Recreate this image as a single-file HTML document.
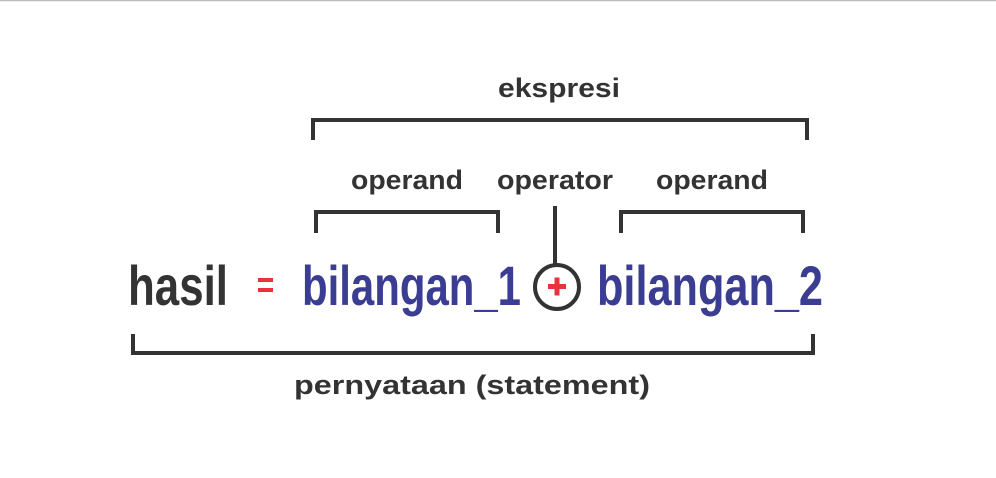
<!DOCTYPE html>
<html><head><meta charset="utf-8"><style>
html,body{margin:0;padding:0;background:#fff;}
svg{display:block}
</style></head><body>
<svg width="996" height="478" viewBox="0 0 996 478" xmlns="http://www.w3.org/2000/svg">
<rect x="0" y="0" width="996" height="478" fill="#fff"/>
<line x1="0" y1="0.5" x2="996" y2="0.5" stroke="#bbb" stroke-width="1.5"/>
<g font-family="'Liberation Sans', sans-serif" font-weight="bold" fill="#333" font-size="27">
<text x="559" y="97" text-anchor="middle" textLength="122" lengthAdjust="spacingAndGlyphs">ekspresi</text>
<text x="407" y="189" text-anchor="middle" textLength="112" lengthAdjust="spacingAndGlyphs">operand</text>
<text x="555" y="189" text-anchor="middle" textLength="116" lengthAdjust="spacingAndGlyphs">operator</text>
<text x="712" y="189" text-anchor="middle" textLength="112" lengthAdjust="spacingAndGlyphs">operand</text>
<text x="472" y="394" text-anchor="middle" textLength="356" lengthAdjust="spacingAndGlyphs">pernyataan (statement)</text>
</g>
<g fill="none" stroke="#333" stroke-width="4">
<polyline points="313,140 313,120 807,120 807,140"/>
<polyline points="316,233 316,212 498,212 498,233"/>
<polyline points="621,233 621,212 803,212 803,233"/>
<line x1="555" y1="206" x2="555" y2="264"/>
<circle cx="557" cy="287" r="22"/>
<polyline points="133,334 133,353 813,353 813,334"/>
</g>
<g font-family="'Liberation Sans Narrow','Liberation Sans', sans-serif" font-weight="bold" font-size="56">
<text x="128" y="305" fill="#333" textLength="100" lengthAdjust="spacingAndGlyphs">hasil</text>
<text x="302" y="305" fill="#3a3d92" textLength="219" lengthAdjust="spacingAndGlyphs">bilangan_1</text>
<text x="597" y="305" fill="#3a3d92" textLength="226" lengthAdjust="spacingAndGlyphs">bilangan_2</text>
</g>
<rect x="258" y="278" width="15" height="4" fill="#e8323c"/>
<rect x="258" y="288" width="15" height="4" fill="#e8323c"/>
<rect x="548" y="284" width="18" height="5" fill="#e8323c"/>
<rect x="554.5" y="277.5" width="5" height="18" fill="#e8323c"/>
</svg>
</body></html>
